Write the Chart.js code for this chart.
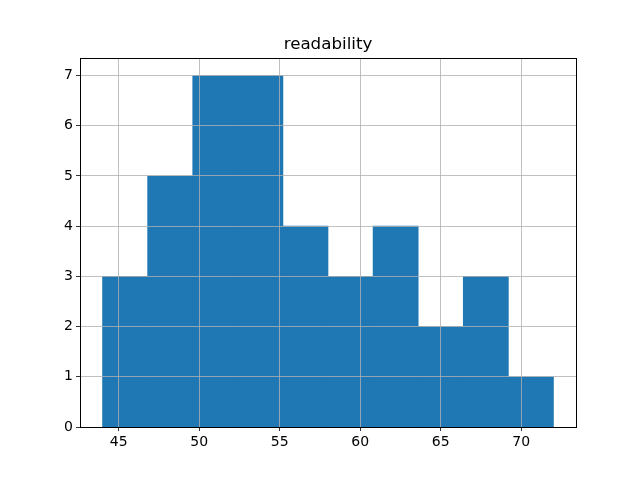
<!DOCTYPE html>
<html>
<head>
<meta charset="utf-8">
<script src="https://cdn.jsdelivr.net/npm/chart.js@4"></script>
<style>
  html, body { margin: 0; padding: 0; background: #fff; }
  #wrap { width: 640px; height: 480px; }
</style>
</head>
<body>
<div id="wrap"><canvas id="chart" width="640" height="480"></canvas></div>
<script>
// histogram of readability, 10 bins from 44 to 72
const binCenters = [45.4, 48.2, 51.0, 53.8, 56.6, 59.4, 62.2, 65.0, 67.8, 70.6];
const counts = [3, 5, 7, 7, 4, 3, 4, 2, 3, 1];
const xTicks = [45, 50, 55, 60, 65, 70];
const yTicks = [0, 1, 2, 3, 4, 5, 6, 7];
const title = 'readability';

const fontFamily = '"DejaVu Sans", sans-serif';

// axes frame + title centred over the plot area (like matplotlib)
const frame = {
  id: 'frame',
  afterDraw(chart) {
    const { ctx, chartArea: a } = chart;
    ctx.save();
    ctx.strokeStyle = '#000';
    ctx.lineWidth = 1;
    ctx.strokeRect(Math.round(a.left) + 0.5, Math.round(a.top) + 0.5,
      Math.round(a.right - a.left), Math.round(a.bottom - a.top));
    ctx.fillStyle = '#000';
    ctx.font = '16.7px ' + fontFamily;
    ctx.textAlign = 'center';
    ctx.textBaseline = 'alphabetic';
    ctx.fillText(title, (a.left + a.right) / 2, a.top - 9);
    ctx.restore();
  },
};

new Chart(document.getElementById('chart'), {
  type: 'bar',
  data: {
    datasets: [{
      label: title,
      data: binCenters.map((x, i) => ({ x, y: counts[i] })),
      backgroundColor: '#1f77b4',
      borderWidth: 0,
      barPercentage: 1,
      categoryPercentage: 1,
    }],
  },
  options: {
    responsive: false,
    animation: false,
    layout: { padding: { left: 0, right: 64, top: 58, bottom: 0 } },
    plugins: {
      legend: { display: false },
      tooltip: { enabled: false },
      title: { display: false },
    },
    scales: {
      x: {
        type: 'linear',
        min: 42.6,
        max: 73.4,
        offset: false,
        z: 1,
        afterBuildTicks: (s) => { s.ticks = xTicks.map((v) => ({ value: v })); },
        afterFit: (s) => { s.height = 53; },
        grid: { z: 1, color: '#b0b0b0', lineWidth: 0.8, tickColor: '#000', tickLength: 4, offset: false },
        border: { z: 2, color: '#000', width: 1 },
        ticks: { color: '#000', padding: 3, maxRotation: 0, font: { family: fontFamily, size: 14 } },
      },
      y: {
        min: 0,
        max: 7.35,
        z: 1,
        afterBuildTicks: (s) => { s.ticks = yTicks.map((v) => ({ value: v })); },
        afterFit: (s) => { s.width = 80; },
        grid: { z: 1, color: '#b0b0b0', lineWidth: 0.8, tickColor: '#000', tickLength: 4 },
        border: { z: 2, color: '#000', width: 1 },
        ticks: { color: '#000', padding: 3, font: { family: fontFamily, size: 14 } },
      },
    },
  },
  plugins: [frame],
});
</script>
</body>
</html>
